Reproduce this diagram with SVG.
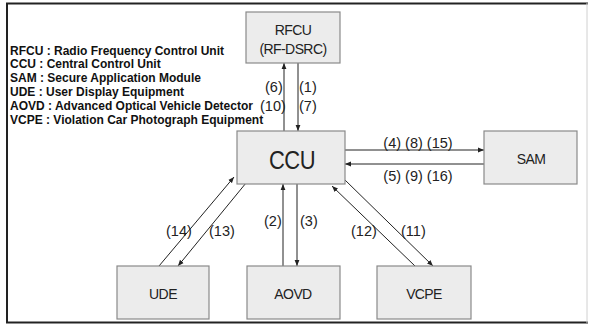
<svg xmlns="http://www.w3.org/2000/svg" width="589" height="325" viewBox="0 0 589 325">
<defs>
<marker id="ah" viewBox="0 0 10 10" refX="10" refY="5" markerWidth="6" markerHeight="6" orient="auto-start-reverse" markerUnits="userSpaceOnUse">
<path d="M0,1 L10,5 L0,9 z" fill="#222"/>
</marker>
<style>
.box{fill:#ececec;stroke:#8a8a8a;stroke-width:1.2}
.nt{font-family:"Liberation Sans",Arial,sans-serif;font-size:14px;fill:#222;text-anchor:middle;letter-spacing:-0.6px}
.lg{font-family:"Liberation Sans",Arial,sans-serif;font-size:12px;font-weight:bold;fill:#111}
.lb{font-family:"Liberation Sans",Arial,sans-serif;font-size:14.5px;fill:#222}
.c{stroke:#222;stroke-width:1;fill:none;marker-end:url(#ah)}
</style>
</defs>
<rect width="589" height="325" fill="#fff"/>
<g id="frame">
<line x1="6" y1="3.5" x2="588" y2="3.5" stroke="#222" stroke-width="2"/>
<line x1="6" y1="322.5" x2="588" y2="322.5" stroke="#222" stroke-width="2"/>
<line x1="7" y1="3" x2="7" y2="323" stroke="#222" stroke-width="2"/>
<line x1="587" y1="3" x2="587" y2="323" stroke="#d0d0d0" stroke-width="1"/>
</g>
<g id="legend">
<text class="lg" x="10" y="55">RFCU : Radio Frequency Control Unit</text>
<text class="lg" x="10" y="68">CCU : Central Control Unit</text>
<text class="lg" x="10" y="82">SAM : Secure Application Module</text>
<text class="lg" x="10" y="96">UDE : User Display Equipment</text>
<text class="lg" x="10" y="110">AOVD : Advanced Optical Vehicle Detector</text>
<text class="lg" x="10" y="124">VCPE : Violation Car Photograph Equipment</text>
</g>
<g id="connectors">
<line class="c" x1="284" y1="131" x2="284" y2="63"/>
<line class="c" x1="298" y1="63" x2="298" y2="131"/>
<line class="c" x1="345" y1="150" x2="484" y2="150"/>
<line class="c" x1="484" y1="164" x2="345" y2="164"/>
<line class="c" x1="159" y1="266" x2="234" y2="177"/>
<line class="c" x1="246" y1="183" x2="178" y2="266"/>
<line class="c" x1="283" y1="266" x2="283" y2="184"/>
<line class="c" x1="297" y1="184" x2="297" y2="266"/>
<line class="c" x1="415" y1="266" x2="332" y2="186"/>
<line class="c" x1="345" y1="180" x2="433" y2="266"/>
<text class="lb" x="265" y="92">(6)</text>
<text class="lb" x="260" y="111">(10)</text>
<text class="lb" x="299" y="92">(1)</text>
<text class="lb" x="299" y="111">(7)</text>
<text class="lb" x="418" y="148" text-anchor="middle">(4) (8) (15)</text>
<text class="lb" x="418" y="181" text-anchor="middle">(5) (9) (16)</text>
<text class="lb" x="166" y="236">(14)</text>
<text class="lb" x="209" y="236">(13)</text>
<text class="lb" x="264" y="226">(2)</text>
<text class="lb" x="300" y="226">(3)</text>
<text class="lb" x="351" y="236">(12)</text>
<text class="lb" x="401" y="236">(11)</text>
</g>
<g id="RFCU">
<rect class="box" x="246" y="12" width="94" height="51"/>
<text class="nt" x="293" y="35">RFCU</text>
<text class="nt" x="293" y="54">(RF-DSRC)</text>
</g>
<g id="CCU">
<rect class="box" x="237" y="131" width="108" height="53"/>
<text class="nt" x="292" y="169" style="font-size:26px" textLength="46" lengthAdjust="spacingAndGlyphs">CCU</text>
</g>
<g id="SAM">
<rect class="box" x="484" y="131" width="93" height="53"/>
<text class="nt" x="531" y="164">SAM</text>
</g>
<g id="UDE">
<rect class="box" x="117" y="266" width="92" height="53"/>
<text class="nt" x="163" y="299">UDE</text>
</g>
<g id="AOVD">
<rect class="box" x="247" y="266" width="93" height="53"/>
<text class="nt" x="293" y="299">AOVD</text>
</g>
<g id="VCPE">
<rect class="box" x="377" y="266" width="94" height="53"/>
<text class="nt" x="424" y="299">VCPE</text>
</g>
</svg>
